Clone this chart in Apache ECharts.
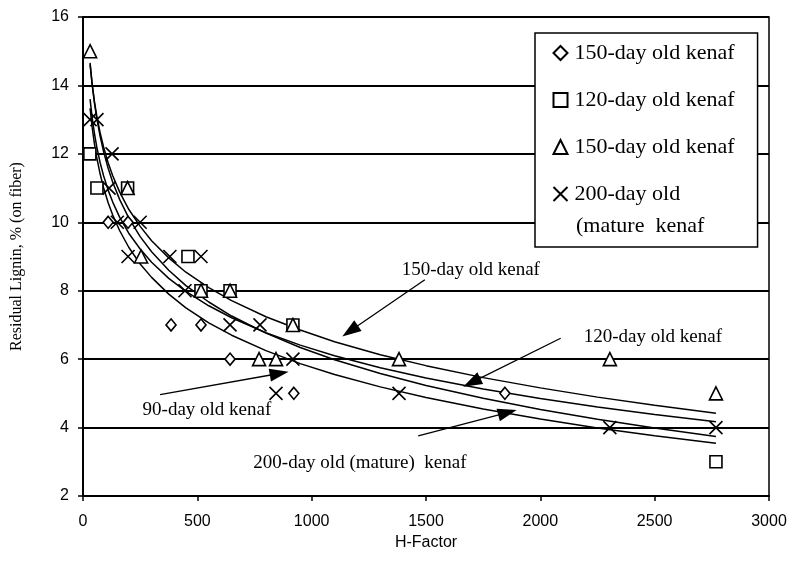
<!DOCTYPE html>
<html>
<head>
<meta charset="utf-8">
<script src="https://cdn.jsdelivr.net/npm/echarts@6/dist/echarts.min.js"></script>
<style>html,body{margin:0;padding:0;background:#fff;}#c{width:792px;height:571px;}</style>
</head>
<body>
<div id="c"></div>
<script>
// ---- data ----
const kenaf90 = [[110,10],[197,10],[385,7],[516,7],[643,6],[922,5],[1845,5]];
const kenaf120 = [[30,12],[61,11],[195,11],[459,9],[516,8],[643,8],[918,7],[2768,3]];
const kenaf150 = [[31,15],[195,11],[254,9],[516,8],[643,8],[918,7],[770,6],[844,6],[1382,6],[2304,6],[2768,5]];
const kenaf200 = [[31,13],[61,13],[127,12],[114,11],[150,10],[250,10],[197,9],[380,9],[516,9],[446,8],[643,7],[774,7],[918,6],[844,5],[1382,5],[2304,4],[2768,4]];

// fitted curves
const fitX = [31, 40, 50, 60, 75, 90, 110, 130, 160, 200, 250, 300, 375, 450, 550, 650, 800, 950, 1100, 1300, 1500, 1750, 2000, 2250, 2500, 2768];
const fit150 = [14.61, 14.04, 13.53, 13.12, 12.61, 12.20, 11.74, 11.36, 10.89, 10.38, 9.88, 9.46, 8.96, 8.54, 8.09, 7.71, 7.24, 6.85, 6.51, 6.13, 5.81, 5.46, 5.16, 4.89, 4.65, 4.42];
const fit120 = [13.60, 13.06, 12.60, 12.21, 11.74, 11.36, 10.94, 10.59, 10.15, 9.68, 9.22, 8.83, 8.36, 7.98, 7.56, 7.21, 6.77, 6.41, 6.10, 5.75, 5.45, 5.13, 4.85, 4.60, 4.38, 4.17];
const fit200 = [14.66, 14.04, 13.49, 13.05, 12.51, 12.07, 11.58, 11.17, 10.67, 10.13, 9.58, 9.14, 8.60, 8.15, 7.67, 7.26, 6.76, 6.34, 5.98, 5.58, 5.23, 4.86, 4.53, 4.24, 3.99, 3.74];
const fit90 = [13.33, 12.78, 12.29, 11.90, 11.41, 11.01, 10.57, 10.21, 9.76, 9.27, 8.78, 8.39, 7.90, 7.50, 7.06, 6.70, 6.25, 5.87, 5.55, 5.19, 4.88, 4.54, 4.25, 3.99, 3.76, 3.54];

const seriesNames = ['s90', 's120', 's150', 's200'];
const legendLabels = {s90: '150-day old kenaf', s120: '120-day old kenaf', s150: '150-day old kenaf', s200: '200-day old'};
const legendExtraLine = '(mature  kenaf';

const annotationTexts = ['150-day old kenaf', '120-day old kenaf', '200-day old (mature)  kenaf', '90-day old kenaf'];
const annotationAt = [[1696, 8.61], [2492, 6.65], [1211, 2.97], [542, 4.51]];
const arrowFrom = [[1495, 8.32], [2089, 6.61], [1466, 3.76], [337, 4.96]];
const arrowTo = [[1168, 6.82], [1700, 5.32], [1856, 4.44], [858, 5.58]];

const xTicks = {min: 0, max: 3000, interval: 500};
const yTicks = {min: 2, max: 16, interval: 2};

// ---- chart ----
const chart = echarts.init(document.getElementById('c'), null, {renderer: 'canvas'});
const serif = 'Liberation Serif';
const sans = 'Liberation Sans';
const crossPath = 'path://M0,0L10,10M10,0L0,10';

function pairs(xs, ys) { return xs.map((x, i) => [x, ys[i]]); }
function fitSeries(name, ys, extra) {
  return Object.assign({
    name: name, type: 'line', data: pairs(fitX, ys), smooth: false,
    showSymbol: false, symbol: 'none', silent: true, z: 2,
    lineStyle: {color: '#000', width: 1.5}
  }, extra || {});
}
function scatter(name, data, symbol, size, fill) {
  return {
    name: name, type: 'scatter', data: data, symbol: symbol, symbolSize: size, z: 3,
    itemStyle: {color: fill, borderColor: '#000', borderWidth: 1.6, opacity: 1}
  };
}

const option = {
  animation: false,
  backgroundColor: '#fff',
  grid: {left: 83, right: 23, top: 17, bottom: 75, show: true, borderColor: '#000', borderWidth: 1.5, backgroundColor: 'transparent'},
  xAxis: {
    type: 'value', min: xTicks.min, max: xTicks.max, interval: xTicks.interval,
    name: 'H-Factor', nameLocation: 'middle', nameGap: 30,
    nameTextStyle: {fontFamily: sans, fontSize: 16, color: '#000'},
    axisLine: {show: true, lineStyle: {color: '#000', width: 2}},
    axisTick: {show: true, inside: false, length: 5, lineStyle: {color: '#000', width: 1.5}},
    axisLabel: {fontFamily: sans, fontSize: 16, color: '#000', margin: 18, formatter: v => String(v)},
    splitLine: {show: false}
  },
  yAxis: {
    type: 'value', min: yTicks.min, max: yTicks.max, interval: yTicks.interval,
    name: 'Residual Lignin, % (on fiber)', nameLocation: 'middle', nameGap: 58, nameRotate: 90,
    nameTextStyle: {fontFamily: serif, fontSize: 16, color: '#000'},
    axisLine: {show: true, lineStyle: {color: '#000', width: 2}},
    axisTick: {show: true, inside: false, length: 5, lineStyle: {color: '#000', width: 1.5}},
    axisLabel: {fontFamily: sans, fontSize: 16, color: '#000', margin: 14, formatter: v => String(v)},
    splitLine: {show: true, lineStyle: {color: '#000', width: 2}}
  },
  legend: {
    data: seriesNames, orient: 'vertical', left: 535, top: 33,
    formatter: n => legendLabels[n],
    itemWidth: 14, itemHeight: 14, itemGap: 21,
    padding: [7, 23, 40, 16],
    backgroundColor: '#fff', borderColor: '#000', borderWidth: 1.5,
    selectedMode: false,
    textStyle: {fontFamily: serif, fontSize: 22, color: '#000', lineHeight: 26, padding: [0, 0, 0, 2]}
  },
  graphic: [{
    type: 'text', left: 576, top: 215, z: 100,
    style: {text: legendExtraLine, font: '22px "Liberation Serif"', fill: '#000'}
  }],
  series: [
    fitSeries('fit150', fit150),
    fitSeries('fit120', fit120),
    fitSeries('fit200', fit200),
    fitSeries('fit90', fit90, {
      markLine: {
        silent: true, symbol: ['none', 'triangle'], symbolSize: [13, 19], animation: false,
        label: {show: false},
        lineStyle: {color: '#000', width: 1.3, type: 'solid'},
        data: arrowFrom.map((p, i) => [{coord: p}, {coord: arrowTo[i]}])
      },
      markPoint: {
        silent: true, symbol: 'circle', symbolSize: 0, animation: false,
        itemStyle: {color: 'transparent'},
        label: {show: true, position: 'inside', color: '#000', fontFamily: serif, fontSize: 19},
        data: annotationAt.map((p, i) => ({coord: p, value: 0, label: {formatter: annotationTexts[i]}}))
      }
    }),
    scatter('s90', kenaf90, 'diamond', [10, 12], '#fff'),
    scatter('s120', kenaf120, 'rect', 12, '#fff'),
    scatter('s150', kenaf150, 'triangle', 13, '#fff'),
    scatter('s200', kenaf200, crossPath, 13, 'none')
  ]
};
chart.setOption(option);
</script>
</body>
</html>
